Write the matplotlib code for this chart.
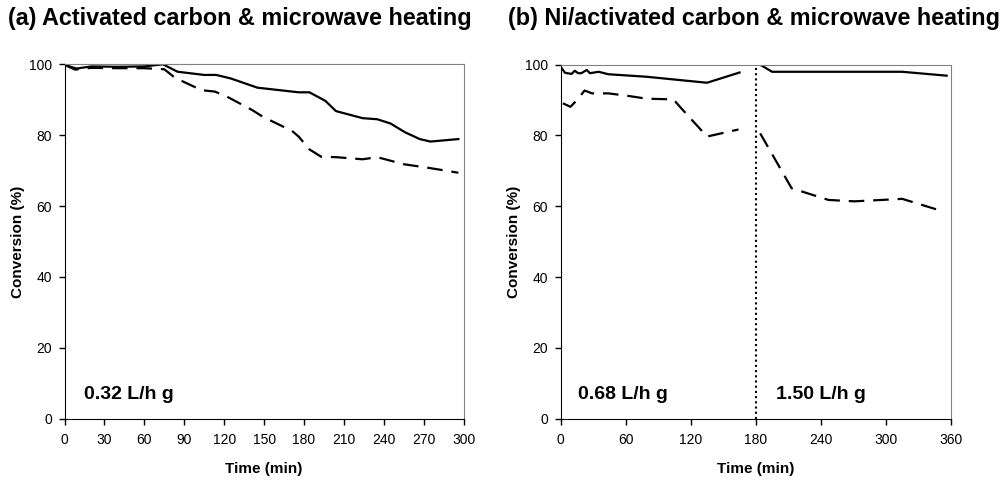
import matplotlib
matplotlib.use('Agg')
import matplotlib.pyplot as plt

plt.rcParams['font.family'] = ['Liberation Sans', 'DejaVu Sans']

# (a) activated carbon, 0.32 L/h g
t_a_solid = [0, 2, 9, 20, 40, 60, 74, 85, 105, 114, 125, 145, 176, 184, 196, 204, 224, 235, 245, 256, 267, 275, 296]
c_a_solid = [100, 99.6, 98.8, 99.4, 99.3, 99.4, 100, 97.9, 97.0, 97.0, 96.0, 93.4, 92.1, 92.1, 89.7, 86.8, 84.8, 84.5, 83.3, 80.8, 78.9, 78.2, 78.9]
t_a_dash = [0, 2, 8, 20, 40, 60, 75, 83, 103, 113, 122, 141, 149, 160, 171, 176, 184, 193, 204, 224, 235, 245, 255, 275, 296]
c_a_dash = [100, 99.5, 98.5, 99.0, 98.9, 98.9, 98.6, 96.2, 92.7, 92.3, 90.9, 87.1, 85.2, 83.2, 81.2, 79.6, 76.0, 73.9, 73.8, 73.2, 73.8, 72.8, 71.8, 70.7, 69.4]

# (b) Ni/activated carbon, 0.68 L/h g then 1.50 L/h g
t_b1_solid = [0, 4, 10, 13, 16, 19, 24, 27, 35, 44, 79, 135, 165]
c_b1_solid = [99.4, 97.7, 97.4, 98.3, 97.6, 97.6, 98.5, 97.6, 98.0, 97.3, 96.6, 94.9, 97.8]
t_b2_solid = [184, 195, 315, 356]
c_b2_solid = [100, 98.0, 98.0, 96.9]
t_b1_dash = [2, 9, 15, 22, 29, 44, 62, 79, 104, 110, 135, 164]
c_b1_dash = [89.1, 88.1, 90.0, 92.7, 91.9, 91.9, 91.2, 90.4, 90.2, 88.1, 79.7, 81.7]
t_b2_dash = [184, 213, 247, 271, 315, 348]
c_b2_dash = [80.6, 65.1, 61.8, 61.4, 62.1, 59.0]

fig = plt.figure(figsize=(10.02, 4.83), dpi=100)
ax1 = fig.add_axes([64.5 / 1002, 1 - 418.7 / 483, 399.2 / 1002, 354.4 / 483])
ax2 = fig.add_axes([560.7 / 1002, 1 - 418.7 / 483, 390.3 / 1002, 354.0 / 483])

dash = (0, (7, 4))
lw = 1.6


def style(ax, xmax, step):
    ax.set_xlim(0, xmax)
    ax.set_ylim(0, 100)
    ax.set_xticks(range(0, xmax + 1, step))
    ax.set_yticks(range(0, 101, 20))
    ax.tick_params(direction='out', length=4, width=1, labelsize=10, pad=6)
    ax.tick_params(axis='y', pad=5)
    for s in ['top', 'right']:
        ax.spines[s].set_color('#808080')
    for s in ['left', 'bottom']:
        ax.spines[s].set_color('black')
    ax.set_ylabel('Conversion (%)', fontsize=11, fontweight='bold', labelpad=3)
    ax.set_xlabel('Time (min)', fontsize=11, fontweight='bold', labelpad=11)


ax1.plot(t_a_solid, c_a_solid, color='black', lw=lw)
ax1.plot(t_a_dash, c_a_dash, color='black', lw=lw, linestyle=dash)
style(ax1, 300, 30)
ax1.text(15, 5.5, '0.32 L/h g', fontsize=14, fontweight='bold')

ax2.plot(t_b1_solid, c_b1_solid, color='black', lw=lw)
ax2.plot(t_b2_solid, c_b2_solid, color='black', lw=lw)
ax2.plot(t_b1_dash, c_b1_dash, color='black', lw=lw, linestyle=dash)
ax2.plot(t_b2_dash, c_b2_dash, color='black', lw=lw, linestyle=dash)
ax2.axvline(180, color='black', lw=1.5, linestyle=(0, (1, 1.5)))
style(ax2, 360, 60)
ax2.text(16, 5.5, '0.68 L/h g', fontsize=14, fontweight='bold')
ax2.text(199, 5.5, '1.50 L/h g', fontsize=14, fontweight='bold')

fig.text(8 / 1002, 1 - 19 / 483, '(a) Activated carbon & microwave heating',
         fontsize=16.8, fontweight='bold', va='center', ha='left')
fig.text(508 / 1002, 1 - 19 / 483, '(b) Ni/activated carbon & microwave heating',
         fontsize=16.8, fontweight='bold', va='center', ha='left')

fig.savefig('out.png', dpi=100)
